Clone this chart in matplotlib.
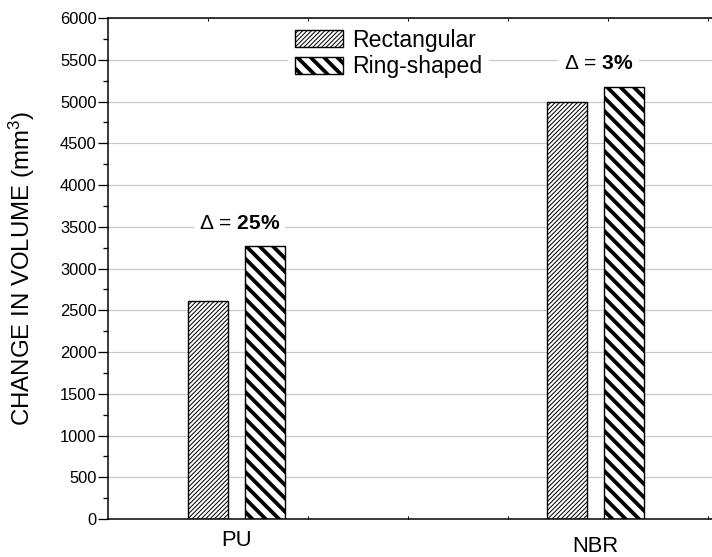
import matplotlib
matplotlib.use("Agg")
import matplotlib.pyplot as plt
import numpy as np
from matplotlib.ticker import MultipleLocator, FixedLocator

# ---- data ----
categories = ["PU", "NBR"]
series_names = ["Rectangular", "Ring-shaped"]
rectangular = [2610, 5000]
ring_shaped = [3265, 5175]
delta_labels = ["25%", "3%"]

DPI = 80
W, H = 712, 557
def pt(px):
    return px * 72.0 / DPI

plt.rcParams['font.family'] = ['Liberation Sans', 'DejaVu Sans']
plt.rcParams['mathtext.fontset'] = 'custom'
plt.rcParams['mathtext.rm'] = 'Liberation Sans'
plt.rcParams['mathtext.bf'] = 'Liberation Sans:bold'
plt.rcParams['mathtext.it'] = 'Liberation Sans:italic'
plt.rcParams['hatch.color'] = 'black'

fig = plt.figure(figsize=(W / DPI, H / DPI), dpi=DPI)
ax = fig.add_axes([108 / W, 1 - 519 / H, (W - 108) / W, (519 - 18) / H])

px_per_unit = 359.0
x = np.arange(len(categories))
bw = 40 / px_per_unit
off = 28.75 / px_per_unit
thin_lw, thick_lw = pt(1.0), pt(3.8)

with plt.rc_context({'hatch.linewidth': thin_lw}):
    b1 = ax.bar(x - off, rectangular, bw, facecolor='white', edgecolor='black',
                linewidth=pt(1.4), hatch='//////', label=series_names[0], zorder=2)
with plt.rc_context({'hatch.linewidth': thick_lw}):
    b2 = ax.bar(x + off, ring_shaped, bw, facecolor='white', edgecolor='black',
                linewidth=pt(1.4), hatch='\\\\', label=series_names[1], zorder=2)
for p in b1:
    if hasattr(p, 'set_hatch_linewidth'):
        p.set_hatch_linewidth(thin_lw)
for p in b2:
    if hasattr(p, 'set_hatch_linewidth'):
        p.set_hatch_linewidth(thick_lw)

ax.set_xlim((108 - 236.5) / px_per_unit, (W - 236.5) / px_per_unit)
ax.set_ylim(0, 6000)

# y axis
ax.yaxis.set_major_locator(MultipleLocator(500))
ax.yaxis.set_minor_locator(MultipleLocator(250))
ax.tick_params(axis='y', which='major', direction='out', length=pt(10), width=pt(1.3),
               labelsize=pt(16.5), pad=pt(1.5), colors='black')
ax.tick_params(axis='y', which='minor', direction='out', length=pt(5), width=pt(1.3))
ax.grid(axis='y', which='major', color='#c8c8c8', linewidth=pt(1.2), zorder=0)
ax.set_axisbelow(True)

# x axis
ax.set_xticks([])
ax.xaxis.set_minor_locator(FixedLocator(np.arange((208 - 236.5) / px_per_unit, 1.33, 100 / px_per_unit)))
ax.tick_params(axis='x', which='minor', direction='in', length=pt(3), width=pt(1.0),
               top=True, bottom=True)

for s in ['left', 'bottom', 'top']:
    ax.spines[s].set_linewidth(pt(1.5))
ax.spines['right'].set_visible(False)

ax.set_ylabel('CHANGE IN VOLUME (mm$^3$)', fontsize=pt(24))
ax.yaxis.set_label_coords((37 - 108) / (W - 108), 0.5)

# category labels
cat_offsets = [11, 17]
for xi, lab, o in zip(x, categories, cat_offsets):
    ax.annotate(lab, xy=(xi, 0), xycoords=('data', 'axes fraction'),
                xytext=(0, -pt(o)), textcoords='offset points',
                ha='center', va='top', fontsize=pt(22))

# delta annotations
for xi, top, d in zip(x, ring_shaped, delta_labels):
    ax.annotate(r'$\Delta$ = $\mathbf{' + d.replace('%', r'\%') + '}$',
                xy=(xi, top), xytext=(pt(3), pt(23)), textcoords='offset points',
                ha='center', va='center', fontsize=pt(21),
                bbox=dict(boxstyle='square,pad=0.25', fc='white', ec='none'), zorder=3)

leg = ax.legend(loc='upper left', bbox_to_anchor=(288 / W, 1 - 22 / H),
                bbox_transform=fig.transFigure, fontsize=pt(23), frameon=True,
                fancybox=False, edgecolor='none', facecolor='white', framealpha=1,
                handlelength=2.1, handleheight=0.75, handletextpad=0.4,
                labelspacing=0.14, borderpad=0.3, borderaxespad=0)
handles = leg.legend_handles if hasattr(leg, 'legend_handles') else leg.legendHandles
for h, lw in zip(handles, [thin_lw, thick_lw]):
    if hasattr(h, 'set_hatch_linewidth'):
        h.set_hatch_linewidth(lw)

fig.savefig('out.png', dpi=DPI)
